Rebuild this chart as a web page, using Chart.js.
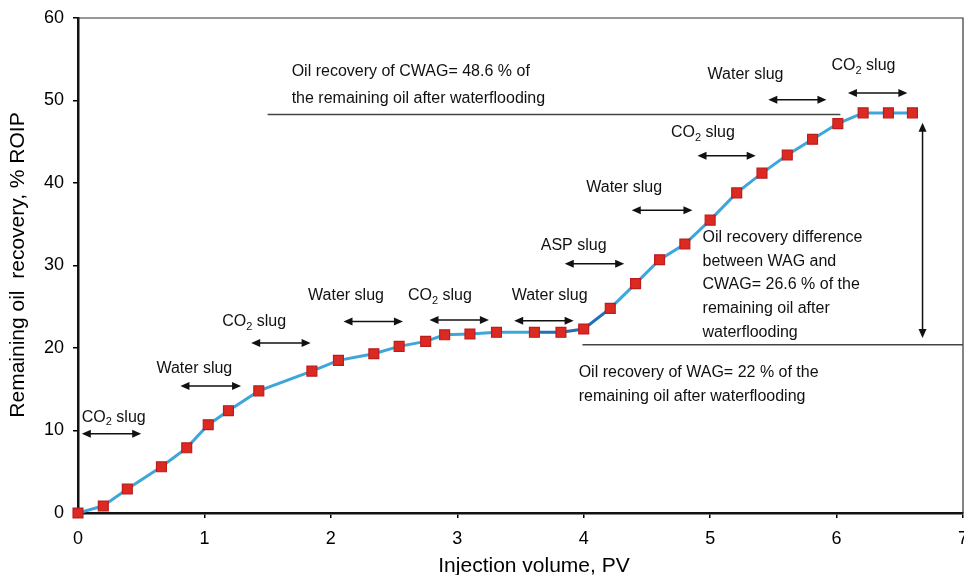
<!DOCTYPE html>
<html>
<head>
<meta charset="utf-8">
<script src="https://cdn.jsdelivr.net/npm/chart.js@4.4.1/dist/chart.umd.min.js"></script>
<style>
  html, body { margin: 0; padding: 0; background: #fff; }
  #wrap { width: 964px; height: 575px; }
</style>
</head>
<body>
<div id="wrap"><canvas id="recoveryChart" width="964" height="575"></canvas></div>
<script>
// Data
const injectionPV = [0, 0.2, 0.39, 0.66, 0.86, 1.03, 1.19, 1.43, 1.85, 2.06, 2.34, 2.54, 2.75, 2.9, 3.1, 3.31,
  3.61, 3.82, 4.0, 4.21, 4.41, 4.6, 4.8, 5.0, 5.21, 5.41, 5.61, 5.81, 6.01, 6.21, 6.41, 6.6];
const oilRecovery = [0, 0.85, 2.9, 5.6, 7.9, 10.7, 12.4, 14.8, 17.2, 18.5, 19.3, 20.2, 20.8, 21.6, 21.7, 21.9,
  21.9, 21.9, 22.3, 24.8, 27.8, 30.7, 32.6, 35.5, 38.8, 41.2, 43.4, 45.3, 47.2, 48.5, 48.5, 48.5];
const xTicks = [0, 1, 2, 3, 4, 5, 6, 7];
const yTicks = [0, 10, 20, 30, 40, 50, 60];

// Slug labels: text, label left x, label y, arrow from x, arrow to x, arrow y (data units)
const slugLabels = ["CO2", "Water", "CO2", "Water", "CO2", "Water", "ASP", "Water", "CO2", "Water", "CO2"];
const slugLabelX = [0.03, 0.62, 1.14, 1.82, 2.61, 3.43, 3.66, 4.02, 4.69, 4.98, 5.96];
const slugLabelY = [11.6, 17.5, 23.2, 26.3, 26.3, 26.4, 32.4, 39.5, 46.1, 53.1, 54.2];
const slugFrom = [0.03, 0.81, 1.37, 2.1, 2.78, 3.45, 3.85, 4.38, 4.9, 5.46, 6.09];
const slugTo = [0.5, 1.29, 1.84, 2.57, 3.25, 3.92, 4.32, 4.86, 5.36, 5.92, 6.56];
const slugArrowY = [9.6, 15.4, 20.6, 23.2, 23.4, 23.3, 30.2, 36.7, 43.3, 50.1, 50.9];

// Level lines and notes
const cwagLevel = 48.3, wagLevel = 20.4;
const cwagNote = ["Oil recovery of CWAG= 48.6 % of", "the remaining oil after waterflooding"];
const diffNote = ["Oil recovery difference", "between WAG and", "CWAG= 26.6 % of the", "remaining oil after", "waterflooding"];
const wagNote = ["Oil recovery of WAG= 22 % of the", "remaining oil after waterflooding"];

const FONT = '"Liberation Sans", Arial, sans-serif';

const drawArrowHead = (ctx, x, y, dx, dy) => {
  const len = 9, half = 4;
  const px = -dy, py = dx;
  ctx.beginPath();
  ctx.moveTo(x, y);
  ctx.lineTo(x - dx * len + px * half, y - dy * len + py * half);
  ctx.lineTo(x - dx * len - px * half, y - dy * len - py * half);
  ctx.closePath();
  ctx.fill();
};

const drawDoubleArrow = (ctx, x0, y0, x1, y1) => {
  const d = Math.hypot(x1 - x0, y1 - y0);
  const dx = (x1 - x0) / d, dy = (y1 - y0) / d;
  ctx.beginPath();
  ctx.moveTo(x0 + dx * 4, y0 + dy * 4);
  ctx.lineTo(x1 - dx * 4, y1 - dy * 4);
  ctx.stroke();
  drawArrowHead(ctx, x1, y1, dx, dy);
  drawArrowHead(ctx, x0, y0, -dx, -dy);
};

const drawSlugText = (ctx, kind, x, y) => {
  ctx.textAlign = "left";
  ctx.textBaseline = "middle";
  ctx.font = `16px ${FONT}`;
  if (kind === "CO2") {
    ctx.fillText("CO", x, y);
    let w = ctx.measureText("CO").width;
    ctx.font = `11px ${FONT}`;
    ctx.fillText("2", x + w, y + 5);
    w += ctx.measureText("2").width;
    ctx.font = `16px ${FONT}`;
    ctx.fillText(" slug", x + w, y);
  } else {
    ctx.fillText(kind + " slug", x, y);
  }
};

const annotations = {
  id: "annotations",
  beforeDatasetsDraw(chart) {
    const { ctx, chartArea: a, scales: { x, y } } = chart;
    ctx.save();
    // top and right frame
    ctx.strokeStyle = "#333";
    ctx.lineWidth = 1.2;
    ctx.beginPath();
    ctx.moveTo(a.left, a.top);
    ctx.lineTo(a.right, a.top);
    ctx.lineTo(a.right, a.bottom);
    ctx.stroke();
    // level lines
    ctx.strokeStyle = "#444";
    ctx.lineWidth = 1.5;
    ctx.beginPath();
    ctx.moveTo(x.getPixelForValue(1.5), y.getPixelForValue(cwagLevel));
    ctx.lineTo(x.getPixelForValue(6.03), y.getPixelForValue(cwagLevel));
    ctx.moveTo(x.getPixelForValue(3.99), y.getPixelForValue(wagLevel));
    ctx.lineTo(a.right, y.getPixelForValue(wagLevel));
    ctx.stroke();
    ctx.restore();
  },
  afterDraw(chart) {
    const { ctx, scales: { x, y } } = chart;
    ctx.save();
    ctx.fillStyle = "#111";
    ctx.strokeStyle = "#111";
    ctx.lineWidth = 1.5;

    slugLabels.forEach((kind, i) => {
      drawSlugText(ctx, kind, x.getPixelForValue(slugLabelX[i]), y.getPixelForValue(slugLabelY[i]));
      const ay = y.getPixelForValue(slugArrowY[i]);
      drawDoubleArrow(ctx, x.getPixelForValue(slugFrom[i]), ay, x.getPixelForValue(slugTo[i]), ay);
    });

    // vertical difference arrow
    const vx = x.getPixelForValue(6.68);
    drawDoubleArrow(ctx, vx, y.getPixelForValue(47.3), vx, y.getPixelForValue(21.2));

    ctx.font = `16px ${FONT}`;
    ctx.textAlign = "left";
    ctx.textBaseline = "middle";
    cwagNote.forEach((t, i) => ctx.fillText(t, x.getPixelForValue(1.69), y.getPixelForValue(53.5) + i * 26.5));
    diffNote.forEach((t, i) => ctx.fillText(t, x.getPixelForValue(4.94), y.getPixelForValue(33.4) + i * 23.8));
    wagNote.forEach((t, i) => ctx.fillText(t, x.getPixelForValue(3.96), y.getPixelForValue(17.0) + i * 24));

    // axis titles
    ctx.fillStyle = "#000";
    ctx.font = `21px ${FONT}`;
    ctx.textAlign = "center";
    ctx.textBaseline = "alphabetic";
    ctx.fillText("Injection volume, PV", 534, 572);
    ctx.translate(24, 265);
    ctx.rotate(-Math.PI / 2);
    ctx.fillText("Remaining oil  recovery, % ROIP", 0, 0);
    ctx.restore();
  }
};

new Chart(document.getElementById("recoveryChart"), {
  type: "scatter",
  data: {
    datasets: [{
      data: injectionPV.map((v, i) => ({ x: v, y: oilRecovery[i] })),
      showLine: true,
      borderColor: "#3fa6da",
      borderWidth: 3,
      tension: 0,
      clip: false,
      pointStyle: "rect",
      pointRadius: 7,
      pointHoverRadius: 7,
      pointBackgroundColor: "#dc2a22",
      pointBorderColor: "#bb1d1d",
      pointBorderWidth: 1.2,
      segment: {
        borderColor: (c) => (c.p0.parsed.x >= 3.6 && c.p1.parsed.x <= 4.22) ? "#1f70b6" : undefined,
      },
    }],
  },
  options: {
    responsive: false,
    animation: false,
    devicePixelRatio: 1,
    layout: { autoPadding: false, padding: { top: 18, right: 1, left: 0, bottom: 0 } },
    plugins: { legend: { display: false }, tooltip: { enabled: false } },
    scales: {
      x: {
        type: "linear",
        min: 0,
        max: 7,
        afterBuildTicks: (s) => { s.ticks = xTicks.map((v) => ({ value: v })); },
        afterFit: (s) => { s.height = 62; s.paddingLeft = 0; s.paddingRight = 0; },
        ticks: { color: "#000", padding: 10, maxRotation: 0, font: { family: FONT, size: 18 } },
        grid: { drawOnChartArea: false, drawTicks: true, tickLength: 5, color: "#000", lineWidth: 1.5 },
        border: { color: "#111", width: 2.5 },
      },
      y: {
        min: 0,
        max: 60,
        afterBuildTicks: (s) => { s.ticks = yTicks.map((v) => ({ value: v })); },
        afterFit: (s) => { s.width = 78; s.paddingTop = 0; s.paddingBottom = 0; },
        ticks: { color: "#000", padding: 9, font: { family: FONT, size: 18 } },
        grid: { drawOnChartArea: false, drawTicks: true, tickLength: 5, color: "#000", lineWidth: 1.5 },
        border: { color: "#111", width: 2.5 },
      },
    },
  },
  plugins: [annotations],
});
</script>
</body>
</html>
